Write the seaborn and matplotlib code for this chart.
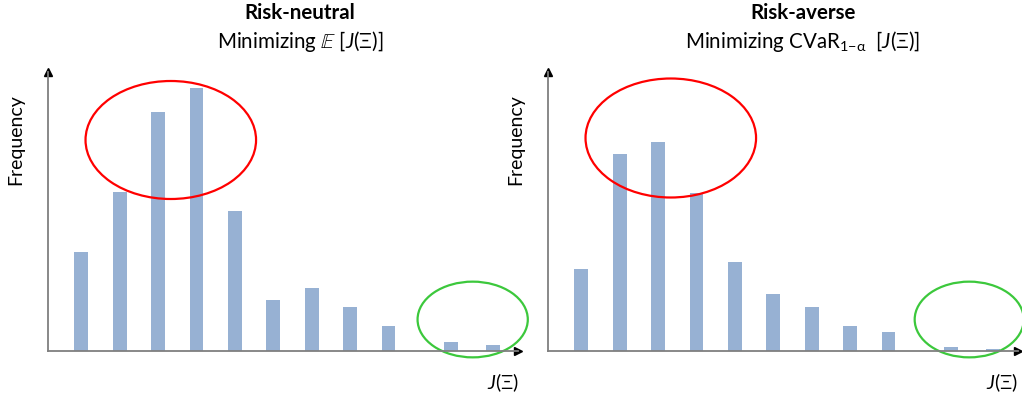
import matplotlib
matplotlib.use("Agg")
import matplotlib.pyplot as plt
import pandas as pd
import seaborn as sns
from matplotlib.patches import Ellipse

# Histogram bins of the cost J(Xi) and their frequencies under each policy
bin_centers = [1, 2, 3, 4, 5, 6, 7, 8, 9, 10.63, 11.72]
freq_neutral = [99, 159, 239, 263, 140, 51, 63, 44, 25, 9, 6]
freq_averse = [82, 197, 209, 158, 89, 57, 44, 25, 19, 4, 1.5]

panel_titles = ["Risk-neutral", "Risk-averse"]
panel_subtitles = [
    r"Minimizing $\mathbb{E}$ [$\mathit{J}(\Xi)$]",
    r"Minimizing CVaR$_{1\mathrm{-}\mathrm{\alpha}}$  [$\mathit{J}(\Xi)$]",
]
x_label = r"$\mathit{J}(\Xi)$"
y_label = "Frequency"

sns.set_theme(style="white")
plt.rcParams["font.family"] = ["Lato", "DejaVu Sans"]
plt.rcParams["mathtext.fontset"] = "custom"
plt.rcParams["mathtext.rm"] = "Lato"
plt.rcParams["mathtext.it"] = "Lato:italic"
plt.rcParams["mathtext.bf"] = "Lato:bold"
plt.rcParams["mathtext.fallback"] = "stixsans"

W, H = 1022, 393
fig = plt.figure(figsize=(W / 100, H / 100), dpi=100)
fig.patch.set_facecolor("white")

bar_color = "#97B1D3"
axis_color = "#7F7F7F"

panels = [
    dict(left=48, freqs=freq_neutral, title_x=300, ylab_x=16, xlab_x=503,
         red=(3.33, 210.7, 4.44, 118), green=(11.19, 31.2, 2.87, 75.7)),
    dict(left=548, freqs=freq_averse, title_x=803, ylab_x=516, xlab_x=1002,
         red=(3.33, 212.7, 4.44, 119), green=(11.10, 31.2, 2.84, 75.7)),
]

ax_w = (518 - 48) / W
ax_b = (H - 350.7) / H
ax_h = (350.7 - 72) / H

for i, p in enumerate(panels):
    ax = fig.add_axes([p["left"] / W, ax_b, ax_w, ax_h])
    df = pd.DataFrame({"J": bin_centers, "freq": p["freqs"]})
    sns.barplot(data=df, x="J", y="freq", native_scale=True, width=0.36,
                color=bar_color, saturation=1, errorbar=None, linewidth=0,
                ax=ax)
    ax.set_xlim(0.133, 12.37)
    ax.set_ylim(0, 278.7)
    ax.set_xticks([])
    ax.set_yticks([])
    ax.set_xlabel("")
    ax.set_ylabel("")
    for side in ("top", "right"):
        ax.spines[side].set_visible(False)
    for side in ("left", "bottom"):
        ax.spines[side].set_color(axis_color)
        ax.spines[side].set_linewidth(1.3)
    ax.plot([0], [1], marker="^", color="black", ms=5.5,
            transform=ax.transAxes, clip_on=False)
    ax.plot([1], [0], marker=">", color="black", ms=5.5,
            transform=ax.transAxes, clip_on=False)

    cx, cy, w, h = p["red"]
    ax.add_patch(Ellipse((cx, cy), w, h, fill=False, ec="#FF0000", lw=1.6,
                         clip_on=False))
    cx, cy, w, h = p["green"]
    ax.add_patch(Ellipse((cx, cy), w, h, fill=False, ec="#3CC83C", lw=1.6,
                         clip_on=False))

    fig.text(p["title_x"] / W, 1 - 13 / H, panel_titles[i], ha="center",
             va="center", fontsize=14.8, fontweight="bold", color="black")
    fig.text(p["title_x"] / W, 1 - 41 / H, panel_subtitles[i], ha="center",
             va="center", fontsize=14.8, color="black")
    fig.text(p["ylab_x"] / W, 1 - 140 / H, y_label, rotation=90, ha="center",
             va="center", fontsize=14, color="black")
    fig.text(p["xlab_x"] / W, 1 - 383 / H, x_label, ha="center",
             va="center", fontsize=14, color="black")

fig.savefig("out.png", dpi=100, facecolor="white")
